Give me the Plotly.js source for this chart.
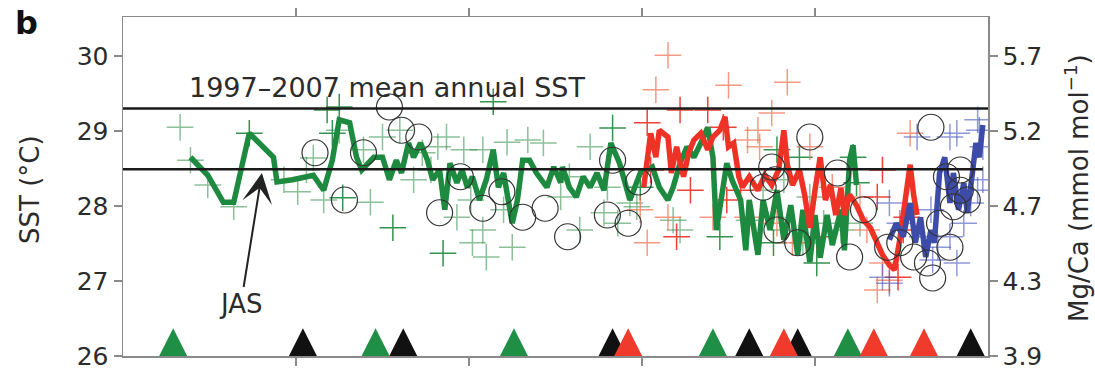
<!DOCTYPE html>
<html><head><meta charset="utf-8">
<script src="https://cdn.plot.ly/plotly-3.0.1.min.js"></script>
<style>html,body{margin:0;padding:0;background:#fff}#chart{width:1095px;height:371px}</style>
</head><body><div id="chart"></div>
<script>
// ---- data (x: record position, tick every 1 unit; y: SST °C) ----
const greenLineX = [0.39,0.49,0.58,0.64,0.73,0.83,0.87,0.89,0.98,1.10,
  1.16,1.21,1.25,1.31,1.35,1.38,1.45,1.50,1.54,1.58,
  1.61,1.65,1.68,1.72,1.76,1.79,1.83,1.86,1.89,1.93,
  1.96,1.99,2.02,2.06,2.10,2.14,2.17,2.20,2.23,2.25,
  2.28,2.31,2.35,2.39,2.45,2.49,2.53,2.54,2.58,2.62,
  2.66,2.70,2.74,2.78,2.82,2.87,2.93,2.99,3.03,3.06,
  3.10,3.15,3.18,3.22,3.26,3.30,3.34,3.38,3.41,3.43,
  3.46,3.49,3.52,3.57,3.60,3.62,3.67,3.70,3.74,3.78,
  3.82,3.86,3.90,3.93,3.97,4.00,4.03,4.07,4.10,4.15,
  4.17,4.20,4.22,4.24];
const greenLineY = [28.65,28.41,28.05,28.05,28.97,28.75,28.65,28.32,28.35,28.41,
  28.21,28.61,29.15,29.11,28.65,28.48,28.65,28.65,28.35,28.61,
  28.44,28.84,28.65,28.84,28.61,28.35,28.48,27.95,28.57,28.31,
  28.48,28.25,28.39,28.08,28.35,28.75,28.25,28.44,28.08,27.77,
  28.08,28.61,28.61,28.44,28.25,28.52,28.31,28.52,28.25,28.12,
  28.39,28.25,28.44,28.21,28.84,28.57,28.08,28.44,28.48,28.52,
  28.25,28.08,28.25,28.57,28.79,28.65,28.84,29.05,28.65,27.68,
  28.12,28.57,28.35,28.08,27.41,28.08,27.35,28.08,27.68,28.21,
  27.55,28.01,27.35,27.95,27.25,27.88,27.31,27.88,27.48,27.95,
  27.41,28.61,28.81,28.28];

const redLineX = [3.01,3.05,3.08,3.10,3.15,3.17,3.20,3.24,3.27,3.30,
  3.34,3.38,3.41,3.45,3.48,3.50,3.53,3.56,3.58,3.62,
  3.67,3.71,3.75,3.79,3.82,3.84,3.87,3.91,3.94,3.97,
  4.00,4.03,4.06,4.09,4.12,4.15,4.17,4.20,4.24,4.28,
  4.32,4.36,4.39,4.43,4.46,4.49,4.52,4.55,4.57,4.59];
const redLineY = [28.25,28.97,28.65,29.01,28.92,28.44,28.79,28.39,28.71,28.88,
  28.97,28.75,28.92,29.01,29.19,28.79,28.84,28.39,28.25,28.39,
  28.21,28.41,28.28,28.48,29.01,28.55,28.28,28.48,28.15,27.71,
  28.21,28.65,28.08,28.28,27.88,28.24,27.88,28.15,28.01,27.81,
  27.71,27.52,27.35,27.21,27.15,27.55,28.08,28.55,28.15,27.88];

const blueLineX = [4.43,4.47,4.51,4.55,4.58,4.61,4.64,4.67,4.69,4.72,
  4.75,4.78,4.80,4.83,4.86,4.88,4.91,4.93,4.95,4.97];
const blueLineY = [27.55,27.77,27.59,28.04,27.51,27.85,27.32,27.68,27.51,28.44,
  28.65,28.04,28.44,27.95,28.31,27.91,28.44,28.84,28.65,29.08];

const greenCrossLightX = [0.33,0.39,0.49,0.64,0.93,1.01,1.06,1.10,1.16,1.25,
  1.43,1.39,1.50,1.60,1.73,1.68,1.78,1.82,1.87,1.97,
  2.08,1.93,2.01,2.08,2.20,2.02,2.10,2.25,2.22,2.34,
  2.43,2.53,2.58,2.64,2.70,2.80,2.86,2.93,2.78,2.97,
  3.18,3.22,3.70,3.82,3.97,3.82,3.93,4.05,4.15,4.26,3.62];
const greenCrossLightY = [29.05,28.61,28.28,27.99,28.35,28.19,28.48,28.64,28.08,29.01,
  28.05,28.75,28.92,29.01,28.71,28.35,28.48,28.79,28.92,28.75,
  28.75,27.85,28.08,27.68,27.95,27.51,27.32,27.45,28.85,28.88,
  28.84,28.12,28.39,27.68,28.79,28.25,27.77,28.04,27.91,27.99,
  27.81,27.68,28.21,28.35,28.12,27.68,27.51,27.77,27.68,27.77,27.81];

const greenCrossDarkX = [0.73,1.18,1.21,1.25,1.27,1.56,1.85,2.14,2.83,3.45,
  3.78,3.91,3.76,4.01,4.22,4.24,2.99];
const greenCrossDarkY = [28.97,29.28,28.97,29.32,28.11,27.71,27.37,29.39,29.04,27.59,
  28.75,28.65,27.51,27.24,28.65,28.31,28.25];

const redCrossLightX = [3.15,3.08,3.50,3.84,3.75,3.61,3.67,3.97,4.55,2.99,
  3.03,3.15,3.41,3.61,3.78,3.87,4.10,4.26,4.30,4.36,
  4.39,4.43,3.68];
const redCrossLightY = [30.01,29.55,29.61,29.65,29.24,28.88,29.01,28.79,28.97,27.95,
  27.51,27.85,27.85,27.85,27.77,27.51,28.25,28.12,27.68,26.88,
  27.24,27.01,28.79];

const redCrossDarkX = [3.22,3.03,3.38,3.47,3.05,3.20,3.28,3.49,3.57,4.01,
  4.36,4.39,4.53,4.51,4.48];
const redCrossDarkY = [29.28,29.11,29.28,29.05,28.48,27.59,28.21,28.08,28.21,27.59,
  28.12,28.48,27.85,27.68,27.05];

const blueCrossX = [4.59,4.78,4.82,4.94,4.95,4.97,4.67,4.43,4.49,4.62,
  4.71,4.82,4.86,4.90,4.43,4.39,4.78,4.68,4.94,4.97];
const blueCrossY = [28.92,28.92,28.97,29.15,29.01,28.79,27.95,28.04,27.77,27.59,
  27.45,27.24,27.77,28.04,26.97,27.05,27.59,27.28,28.21,28.35];

const circleX = [1.11,1.28,1.39,1.54,1.61,1.71,1.95,1.83,2.08,2.19,
  2.31,2.44,2.57,2.80,2.92,2.83,2.98,3.97,3.75,3.70,
  3.78,3.90,4.13,4.28,4.20,4.42,4.49,4.67,4.76,4.84,
  4.84,4.80,4.88,4.72,4.78,4.65,4.68,4.57,3.77];
const circleY = [28.71,28.08,28.71,29.32,29.01,28.92,28.39,27.91,27.97,28.19,
  27.85,27.97,27.59,27.88,27.77,28.61,28.32,28.92,28.52,28.25,
  27.68,27.51,28.44,27.95,27.32,27.45,27.51,29.05,28.39,28.48,
  28.21,27.99,28.08,27.77,27.45,27.24,27.04,27.32,28.35];

const triBlackX = [1.04,1.62,2.83,3.62,3.90,4.90];
const triGreenX = [0.29,1.46,2.26,3.41,4.19];
const triRedX = [2.92,3.82,4.34,4.63];

const meanAnnualSST = 29.30;   // 1997–2007 mean annual SST
const meanJAS = 28.49;         // lower reference line
const sstTicks = [26,27,28,29,30];
const mgcaTickText = ['3.9','4.3','4.7','5.2','5.7'];

// ---- styling / helpers ----
const TRI_HALF = 0.081, TRI_H = 0.37, TRI_BASE = 26.0;
function triangles(xs, color) {
  const X = [], Y = [];
  xs.forEach(c => {
    X.push(c - TRI_HALF, c + TRI_HALF, c, c - TRI_HALF, null);
    Y.push(TRI_BASE, TRI_BASE, TRI_BASE + TRI_H, TRI_BASE, null);
  });
  return {x: X, y: Y, mode: 'lines', fill: 'toself', fillcolor: color,
          line: {width: 0, color: color}, hoverinfo: 'skip', showlegend: false};
}
function crosses(x, y, color) {
  return {x, y, mode: 'markers', showlegend: false, hoverinfo: 'skip',
          marker: {symbol: 'cross-thin-open', size: 19, color: color, line: {width: 1.5, color: color}}};
}
function thick(x, y, color) {
  return {x, y, mode: 'lines', showlegend: false, hoverinfo: 'skip',
          line: {color: color, width: 5.5, shape: 'linear'}};
}
const GREEN = '#1d8a3f', RED = '#ee3226', BLUE = '#3c4ca8';
const FONT = 'DejaVu Sans';
const traces = [
  crosses(greenCrossLightX, greenCrossLightY, 'rgba(45,140,70,0.55)'),
  crosses(greenCrossDarkX, greenCrossDarkY, 'rgba(30,135,60,0.9)'),
  crosses(redCrossLightX, redCrossLightY, 'rgba(242,110,80,0.7)'),
  crosses(redCrossDarkX, redCrossDarkY, 'rgba(235,45,35,0.9)'),
  crosses(blueCrossX, blueCrossY, 'rgba(70,85,190,0.6)'),
  thick(greenLineX, greenLineY, GREEN),
  thick(redLineX, redLineY, RED),
  thick(blueLineX, blueLineY, BLUE),
  {x: circleX, y: circleY, mode: 'markers', showlegend: false, hoverinfo: 'skip',
   marker: {symbol: 'circle-open', size: 26, color: '#333', line: {width: 1.2, color: 'rgba(30,30,30,0.85)'}}},
  {x: [0, 5], y: [meanAnnualSST, meanAnnualSST], mode: 'lines', showlegend: false, hoverinfo: 'skip',
   line: {color: '#1a1a1a', width: 2.5}},
  {x: [0, 4.97], y: [meanJAS, meanJAS], mode: 'lines', showlegend: false, hoverinfo: 'skip',
   line: {color: '#1a1a1a', width: 2.5}},
  triangles(triBlackX, '#111111'),
  triangles(triGreenX, '#1f8f45'),
  triangles(triRedX, '#ef3a2c'),
  {x: [0], y: [26], yaxis: 'y2', mode: 'markers', marker: {opacity: 0}, showlegend: false, hoverinfo: 'skip'}
];

const axisCommon = {showline: true, linecolor: '#8a8a8a', linewidth: 1.5, ticks: 'outside',
  ticklen: 8, tickwidth: 1.2, tickcolor: '#8a8a8a', showgrid: false, zeroline: false};

const layout = {
  width: 1095, height: 371,
  margin: {l: 123, r: 107, t: 17, b: 15, pad: 0},
  paper_bgcolor: '#fff', plot_bgcolor: '#fff',
  font: {family: FONT, size: 25, color: '#2b2b2b'},
  xaxis: Object.assign({}, axisCommon, {range: [0, 5], tickvals: [1,2,3,4], showticklabels: false, mirror: 'ticks'}),
  yaxis: Object.assign({}, axisCommon, {range: [26, 30.52], tickvals: sstTicks,
    ticktext: sstTicks.map(String), tickfont: {family: FONT, size: 25, color: '#2b2b2b'}}),
  yaxis2: Object.assign({}, axisCommon, {range: [26, 30.52], overlaying: 'y', side: 'right', anchor: 'x',
    tickvals: sstTicks, ticktext: mgcaTickText, tickfont: {family: FONT, size: 25, color: '#2b2b2b'}}),
  annotations: [
    {text: '1997–2007 mean annual SST', x: 1.526, y: 29.58, xref: 'x', yref: 'y', showarrow: false,
     xanchor: 'center', yanchor: 'middle', font: {family: FONT, size: 27, color: '#2b2b2b'}},
    {text: 'JAS', x: 0.803, y: 28.44, ax: 0.682, ay: 26.70, axref: 'x', ayref: 'y', xref: 'x', yref: 'y',
     showarrow: true, arrowhead: 3, arrowsize: 2.5, arrowwidth: 2, arrowcolor: '#222', standoff: 0,
     font: {family: FONT, size: 26, color: '#2b2b2b'}},
    {text: '<b>b</b>', x: (26-123)/865, y: (356-23)/339, xref: 'paper', yref: 'paper', showarrow: false,
     xanchor: 'center', yanchor: 'middle', font: {family: 'DejaVu Sans', size: 32, color: '#111'}},
    {text: 'SST (°C)', x: (30-123)/865, y: (356-190)/339, xref: 'paper', yref: 'paper', showarrow: false,
     xanchor: 'center', yanchor: 'middle', textangle: -90, font: {family: FONT, size: 26, color: '#2b2b2b'}},
    {text: 'Mg/Ca (mmol mol<sup>−1</sup>)', x: (1077-123)/865, y: (356-188)/339, xref: 'paper', yref: 'paper',
     xanchor: 'center', yanchor: 'middle', showarrow: false, textangle: -90, font: {family: FONT, size: 26, color: '#2b2b2b'}}
  ]
};
Plotly.newPlot('chart', traces, layout, {staticPlot: true, displayModeBar: false});
</script></body></html>
